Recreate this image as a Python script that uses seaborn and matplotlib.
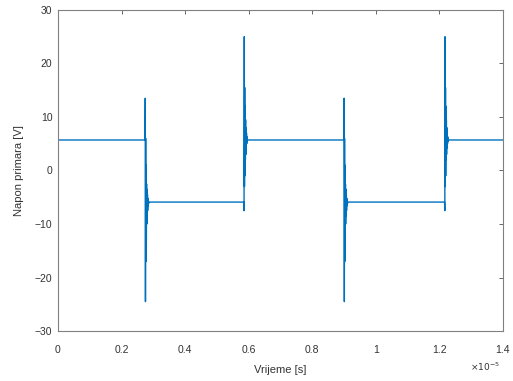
import numpy as np
import pandas as pd
import matplotlib
matplotlib.use("Agg")
import matplotlib.pyplot as plt
import seaborn as sns
from matplotlib.ticker import FuncFormatter

# switching instants (units of 1e-5 s)
edge_times = [0.274, 0.585, 0.900, 1.217]
edge_kind = ["fall", "rise", "fall", "rise"]
high_level = 5.7
low_level = -5.9
# ringing samples after each edge
fall_ring = [5.7, 13.5, -24.5, 6.0, -17.0, 1.0, -13.0, -2.5, -10.0, -3.5, -8.5, -4.5, -7.5, -5.2, -6.6, -5.6, -6.2, -5.9]
rise_ring = [-5.9, -7.5, 25.0, -3.0, 15.5, -1.0, 12.0, 2.0, 9.5, 3.0, 8.0, 4.2, 7.0, 5.0, 6.3, 5.4, 5.9, 5.7]
ring_step = 0.0007
t_start, t_end = 0.0, 1.4
x_ticks = [0, 0.2, 0.4, 0.6, 0.8, 1, 1.2, 1.4]
y_ticks = [-30, -20, -10, 0, 10, 20, 30]

xs, ys = [t_start], [high_level]
for t0, kind in zip(edge_times, edge_kind):
    ring = fall_ring if kind == "fall" else rise_ring
    for i, v in enumerate(ring):
        xs.append(t0 + i * ring_step)
        ys.append(v)
xs.append(t_end)
ys.append(high_level if edge_kind[-1] == "rise" else low_level)

df = pd.DataFrame({"t": np.array(xs) * 1e-5, "v": ys})

sns.set_style("white")
plt.rcParams['font.family'] = ['Liberation Sans', 'DejaVu Sans']
fig = plt.figure(figsize=(5.13, 3.81), dpi=100)
ax = fig.add_axes([0.113, 0.131, 0.867, 0.843])
sns.lineplot(data=df, x="t", y="v", ax=ax, color="#0072BD", linewidth=1.0,
             estimator=None, sort=False)

ax.set_xlim(0, 1.4e-5)
ax.set_ylim(-30, 30)
ax.set_xticks(np.array(x_ticks) * 1e-5)
ax.set_yticks(y_ticks)
ax.xaxis.set_major_formatter(FuncFormatter(lambda v, p: "%g" % round(v * 1e5, 3)))
gray = "#4d4d4d"
ax.tick_params(direction="in", length=3, width=0.6, colors=gray, labelsize=7.5,
               top=True, right=True, labelcolor="#333333")
ax.tick_params(axis="x", pad=10)
ax.tick_params(axis="y", pad=4)
for s in ax.spines.values():
    s.set_color("#808080")
    s.set_linewidth(0.8)
ax.set_xlabel("Vrijeme [s]", fontsize=8, color="#333333", labelpad=7)
ax.set_ylabel("Napon primara [V]", fontsize=8, color="#333333", labelpad=8)
ax.text(0.926, -0.112, r"$\times10^{-5}$", transform=ax.transAxes, fontsize=6.5,
        color="#333333", ha="left", va="center")
fig.savefig("out.png", dpi=100)
